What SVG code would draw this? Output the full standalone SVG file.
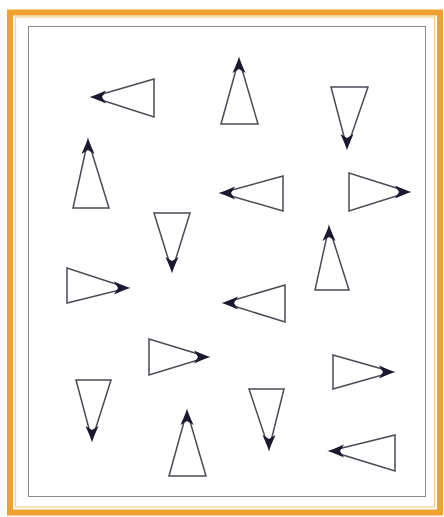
<svg xmlns="http://www.w3.org/2000/svg" width="444" height="517" viewBox="0 0 444 517">
<style>
.tri{fill:none;stroke:#4a4a55;stroke-width:1.5;stroke-linejoin:miter}
.head{fill:#1c1830}
</style>
<defs>
<path id="h" d="M1,0 L-14,-6.5 L-10,0 L-14,6.5 Z"/>
</defs>
<rect x="0" y="0" width="444" height="517" fill="#ffffff"/>
<rect x="10" y="12.5" width="430" height="500" fill="#ffffff" stroke="#f0a230" stroke-width="6"/>
<rect x="15.5" y="17" width="419" height="490" fill="none" stroke="#f7d08a" stroke-width="1.2"/>
<rect x="28.5" y="26.5" width="397" height="470" fill="none" stroke="#8a8a90" stroke-width="1"/>
<g id="t1"><polygon class="tri" points="92,97 154,79 154,117"/><use href="#h" class="head" transform="translate(92,97) rotate(180)"/></g>
<g id="t2"><polygon class="tri" points="88,140 73,208 109,208"/><use href="#h" class="head" transform="translate(88,140) rotate(-90)"/></g>
<g id="t3"><polygon class="tri" points="172,271 154,213 190,213"/><use href="#h" class="head" transform="translate(172,271) rotate(90)"/></g>
<g id="t4"><polygon class="tri" points="239,59 221,124 258,124"/><use href="#h" class="head" transform="translate(239,59) rotate(-90)"/></g>
<g id="t5"><polygon class="tri" points="347,148 331,87 368,87"/><use href="#h" class="head" transform="translate(347,148) rotate(90)"/></g>
<g id="t6"><polygon class="tri" points="221,193 283,176 283,211"/><use href="#h" class="head" transform="translate(221,193) rotate(180)"/></g>
<g id="t7"><polygon class="tri" points="409,192 349,173 349,211"/><use href="#h" class="head" transform="translate(409,192)"/></g>
<g id="t8"><polygon class="tri" points="329,227 315,290 349,290"/><use href="#h" class="head" transform="translate(329,227) rotate(-90)"/></g>
<g id="t9"><polygon class="tri" points="128,288 67,268 67,303"/><use href="#h" class="head" transform="translate(128,288)"/></g>
<g id="t10"><polygon class="tri" points="208,357 149,339 149,375"/><use href="#h" class="head" transform="translate(208,357)"/></g>
<g id="t11"><polygon class="tri" points="92,440 76,380 111,380"/><use href="#h" class="head" transform="translate(92,440) rotate(90)"/></g>
<g id="t12"><polygon class="tri" points="187,411 169,476 206,476"/><use href="#h" class="head" transform="translate(187,411) rotate(-90)"/></g>
<g id="t13"><polygon class="tri" points="224,303 285,285 285,322"/><use href="#h" class="head" transform="translate(224,303) rotate(180)"/></g>
<g id="t14"><polygon class="tri" points="393,372 333,355 333,389"/><use href="#h" class="head" transform="translate(393,372)"/></g>
<g id="t15"><polygon class="tri" points="269,449 249,389 284,389"/><use href="#h" class="head" transform="translate(269,449) rotate(90)"/></g>
<g id="t16"><polygon class="tri" points="330,451 395,435 395,471"/><use href="#h" class="head" transform="translate(330,451) rotate(180)"/></g>
</svg>
